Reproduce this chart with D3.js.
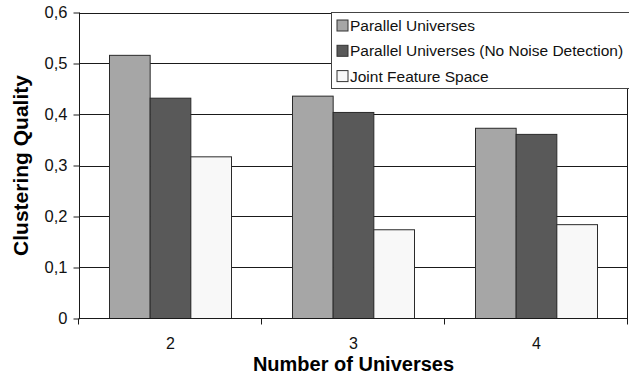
<!DOCTYPE html>
<html>
<head>
<meta charset="utf-8">
<script src="https://cdn.jsdelivr.net/npm/d3@7"></script>
<style>
  html, body { margin: 0; padding: 0; background: #fff; }
  svg { display: block; font-family: "Liberation Sans", Arial, sans-serif; }
</style>
</head>
<body>
<svg id="chart" width="629" height="376"></svg>
<script>
// Number of universes on the x axis
const categories = ["2", "3", "4"];
// Series shown in the legend
const seriesNames = [
  "Parallel Universes",
  "Parallel Universes (No Noise Detection)",
  "Joint Feature Space"
];
// Clustering quality per series, one value per category
const parallel = [0.516, 0.436, 0.373];
const parallelNoNoise = [0.432, 0.404, 0.361];
const jointFeature = [0.317, 0.174, 0.184];
const yTicks = [0, 0.1, 0.2, 0.3, 0.4, 0.5, 0.6];
const yTickLabels = ["0", "0,1", "0,2", "0,3", "0,4", "0,5", "0,6"];
const seriesColors = ["#a6a6a6", "#595959", "#f8f8f8"];

const seriesValues = [parallel, parallelNoNoise, jointFeature];
const rows = categories.map((c, i) => ({
  cat: c,
  values: seriesNames.map((s, j) => ({ series: s, value: seriesValues[j][i] }))
}));

const svg = d3.select("#chart");
const plot = { left: 79, right: 628, top: 12.5, bottom: 318.5 };

const x0 = d3.scaleBand().domain(categories).range([plot.left, plot.right]).padding(0);
const bw = x0.bandwidth() / 4.5; // gap width 150% of a bar
const x1 = d3.scaleBand().domain(seriesNames).range([0.75 * bw, 3.75 * bw]).padding(0);
const y = d3.scaleLinear().domain([0, 0.6]).range([plot.bottom, plot.top]);
const color = d3.scaleOrdinal().domain(seriesNames).range(seriesColors);

// Horizontal gridlines
svg.append("g")
  .selectAll("line")
  .data(yTicks.filter(t => t > 0))
  .join("line")
  .attr("x1", plot.left).attr("x2", plot.right)
  .attr("y1", d => Math.round(y(d)) + 0.5).attr("y2", d => Math.round(y(d)) + 0.5)
  .attr("stroke", "#1a1a1a").attr("stroke-width", 1);

// Right frame edge
svg.append("line")
  .attr("x1", plot.right - 0.5).attr("x2", plot.right - 0.5)
  .attr("y1", y(0.6)).attr("y2", y(0))
  .attr("stroke", "#1a1a1a");

// Bars
const groups = svg.append("g")
  .selectAll("g")
  .data(rows)
  .join("g")
  .attr("transform", d => `translate(${x0(d.cat)},0)`);

groups.selectAll("rect")
  .data(d => d.values)
  .join("rect")
  .attr("x", d => x1(d.series))
  .attr("width", x1.bandwidth())
  .attr("y", d => y(d.value))
  .attr("height", d => y(0) - y(d.value))
  .attr("fill", d => color(d.series))
  .attr("stroke", "#2a2a2a")
  .attr("stroke-width", 1);

// Y axis
const yAxis = d3.axisLeft(y)
  .tickValues(yTicks)
  .tickFormat((d, i) => yTickLabels[i])
  .tickSize(6)
  .tickPadding(6);
const gy = svg.append("g")
  .attr("transform", `translate(${plot.left + 0.5},0)`)
  .call(yAxis);
gy.select(".domain").attr("stroke", "#1a1a1a").attr("d", `M0,${y(0.6)}V${y(0)}`);
gy.selectAll(".tick line").attr("stroke", "#1a1a1a");
gy.selectAll(".tick text")
  .attr("font-size", 16.5)
  .attr("fill", "#111")
  .attr("font-family", "Liberation Sans, Arial, sans-serif");

// X axis: ticks at category boundaries
const xAxisG = svg.append("g").attr("transform", `translate(0,${plot.bottom})`);
xAxisG.append("line")
  .attr("x1", plot.left).attr("x2", plot.right)
  .attr("y1", 0).attr("y2", 0)
  .attr("stroke", "#1a1a1a");
const boundaries = categories.map(c => x0(c)).concat([x0(categories[categories.length - 1]) + x0.bandwidth()]);
xAxisG.selectAll("line.tk")
  .data(boundaries)
  .join("line")
  .attr("class", "tk")
  .attr("x1", d => Math.round(d) - 0.5).attr("x2", d => Math.round(d) - 0.5)
  .attr("y1", 0).attr("y2", 6)
  .attr("stroke", "#1a1a1a");
xAxisG.selectAll("text")
  .data(categories)
  .join("text")
  .attr("x", d => x0(d) + x0.bandwidth() / 2)
  .attr("y", 30)
  .attr("text-anchor", "middle")
  .attr("font-size", 16)
  .attr("fill", "#111")
  .text(d => d);

// Axis titles
svg.append("text")
  .attr("x", (plot.left + plot.right) / 2)
  .attr("y", 371)
  .attr("text-anchor", "middle")
  .attr("font-size", 20)
  .attr("font-weight", "bold")
  .attr("fill", "#000")
  .text("Number of Universes");

svg.append("text")
  .attr("transform", `translate(28,${(plot.top + plot.bottom) / 2}) rotate(-90)`)
  .attr("text-anchor", "middle")
  .attr("font-size", 21)
  .attr("font-weight", "bold")
  .attr("fill", "#000")
  .text("Clustering Quality");

// Legend
const legend = svg.append("g").attr("transform", "translate(331.5,12.5)");
legend.append("rect")
  .attr("width", 300).attr("height", 76)
  .attr("fill", "#fff")
  .attr("stroke", "#444");
const item = legend.selectAll("g.item")
  .data(seriesNames)
  .join("g")
  .attr("class", "item")
  .attr("transform", (d, i) => `translate(5,${13 + i * 25.3})`);
item.append("rect")
  .attr("x", 0.5).attr("y", -5.5)
  .attr("width", 11).attr("height", 11)
  .attr("fill", d => color(d))
  .attr("stroke", "#333");
item.append("text")
  .attr("x", 13.5)
  .attr("y", 0)
  .attr("dy", "0.36em")
  .attr("font-size", 15.5)
  .attr("fill", "#111")
  .text(d => d);
</script>
</body>
</html>
